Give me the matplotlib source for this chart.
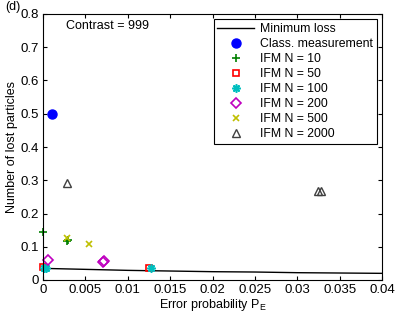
import numpy as np
import matplotlib
matplotlib.use("Agg")
import matplotlib.pyplot as plt
from matplotlib.ticker import FormatStrFormatter, MultipleLocator

plt.rcParams['font.family'] = ['Liberation Sans', 'DejaVu Sans']
plt.rcParams['mathtext.fontset'] = 'custom'
plt.rcParams['mathtext.rm'] = 'Liberation Sans'
plt.rcParams['font.size'] = 8

# minimum loss curve
loss_x = [0.0, 0.005, 0.01, 0.015, 0.02, 0.025, 0.03, 0.035, 0.04]
loss_y = [0.035, 0.032, 0.029, 0.027, 0.025, 0.024, 0.022, 0.021, 0.020]

# classical measurement
cls_x = [0.0011]
cls_y = [0.5]

# IFM points for each N
n10_x = [0.0, 0.0028, 0.0029]
n10_y = [0.145, 0.116, 0.119]
n50_x = [0.0, 0.0125]
n50_y = [0.038, 0.037]
n100_x = [0.0001, 0.0004, 0.0127]
n100_y = [0.037, 0.037, 0.035]
n200_x = [0.0006, 0.0071, 0.0072]
n200_y = [0.06, 0.054, 0.056]
n500_x = [0.0028, 0.0054]
n500_y = [0.127, 0.108]
n2000_x = [0.0028, 0.0324, 0.0328]
n2000_y = [0.293, 0.267, 0.267]

fig = plt.figure(figsize=(3.99, 3.17), dpi=100)
ax = fig.add_axes([43/399, 1-280/317, 339/399, 266/317])

ax.plot(loss_x, loss_y, 'k-', lw=1.0, label='Minimum loss')
ax.plot(cls_x, cls_y, 'o', color='b', ms=6.5, label='Class. measurement', clip_on=False)
ax.plot(n10_x, n10_y, '+', color=(0, 0.5, 0), ms=6, mew=1.2, label='IFM N = 10', clip_on=False)
ax.plot(n50_x, n50_y, 's', color='r', mfc='none', ms=5, mew=1.2, label='IFM N = 50', clip_on=False)
ax.plot(n100_x, n100_y, marker=(8, 2, 0), ls='none', color=(0, 0.75, 0.75), ms=6, mew=1.2,
        label='IFM N = 100', clip_on=False)
ax.plot(n200_x, n200_y, 'D', color=(0.75, 0, 0.75), mfc='none', ms=5, mew=1.2, label='IFM N = 200', clip_on=False)
ax.plot(n500_x, n500_y, 'x', color=(0.75, 0.75, 0), ms=5, mew=1.2, label='IFM N = 500', clip_on=False)
ax.plot(n2000_x, n2000_y, '^', color=(0.25, 0.25, 0.25), mfc='none', ms=6, mew=1.0, label='IFM N = 2000', clip_on=False)

ax.set_xlim(0, 0.04)
ax.set_ylim(0, 0.8)
ax.xaxis.set_major_locator(MultipleLocator(0.005))
ax.yaxis.set_major_locator(MultipleLocator(0.1))
ax.xaxis.set_major_formatter(FormatStrFormatter('%g'))
ax.yaxis.set_major_formatter(FormatStrFormatter('%g'))
ax.tick_params(direction='in', top=True, right=True, length=3, labelsize=9.5, pad=3)
ax.set_xlabel('Error probability P$_\\mathrm{E}$', fontsize=9, labelpad=0.5)
ax.set_ylabel('Number of lost particles', fontsize=9, labelpad=2)

ax.text(0.0027, 0.765, 'Contrast = 999', fontsize=9, va='center')
fig.text(5/399, 1-7/317, '(d)', fontsize=9, va='center')

leg = ax.legend(loc='upper right', bbox_to_anchor=(0.984, 0.98), borderaxespad=0,
                fancybox=False, edgecolor='k', framealpha=1, fontsize=8.8,
                handlelength=3.0, labelspacing=0.25, borderpad=0.3, handletextpad=0.5)
leg.get_frame().set_linewidth(0.8)

fig.savefig('out.png', dpi=100)
